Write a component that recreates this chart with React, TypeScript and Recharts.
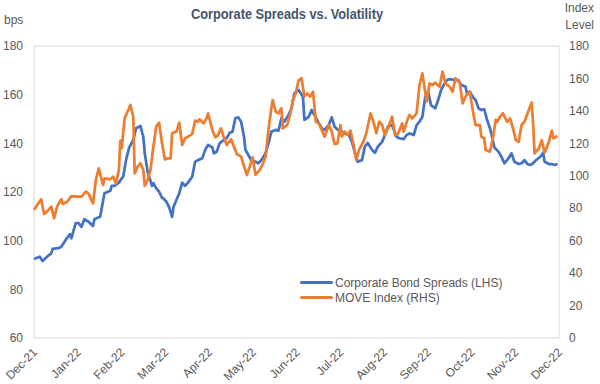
import { LineChart, Line, XAxis, YAxis, Legend, ReferenceArea } from "recharts";

// month labels shown under the x axis, spaced evenly across the year
const monthLabels = [
  "Dec-21", "Jan-22", "Feb-22", "Mar-22", "Apr-22", "May-22", "Jun-22",
  "Jul-22", "Aug-22", "Sep-22", "Oct-22", "Nov-22", "Dec-22",
];

const leftTicks = [60, 80, 100, 120, 140, 160, 180];
const rightTicks = [0, 20, 40, 60, 80, 100, 120, 140, 160, 180];

// Corporate bond spreads (bps, left axis), days since 1 Dec 2021
const spreadDays = [
  0, 4, 6, 9, 12, 13, 17, 19, 22, 25,
  26, 29, 31, 33, 35, 38, 41, 42, 45, 46,
  49, 53, 54, 56, 59, 61, 62, 64, 66, 69,
  71, 74, 76, 77, 79, 81, 82, 83, 85, 87,
  89, 90, 92, 94, 96, 97, 99, 101, 103, 105,
  107, 110, 112, 114, 117, 119, 121, 124, 125, 127,
  129, 132, 134, 136, 138, 140, 142, 144, 146, 147,
  149, 151, 154, 156, 158, 161, 163, 165, 168, 170,
  172, 174, 177, 179, 181, 184, 187, 188, 191, 193,
  195, 198, 200, 202, 205, 207, 209, 212, 214, 216,
  219, 221, 223, 225, 228, 230, 232, 235, 237, 239,
  242, 244, 246, 249, 252, 254, 257, 259, 261, 264,
  266, 268, 270, 272, 274, 276, 279, 281, 283, 286,
  288, 290, 293, 295, 297, 300, 301, 303, 305, 307,
  309, 311, 313, 315, 317, 319, 320, 323, 325, 327,
  330, 332, 334, 337, 339, 341, 343, 345, 347, 349,
  352, 354, 355, 358, 360, 362, 364,
];
const spreadValues = [
  92.5, 93.4, 91.6, 93.4, 94.8, 96.6, 96.9, 97.5, 100.3, 102.7,
  101.0, 107.2, 107.2, 105.7, 108.8, 107.8, 106.0, 108.8, 109.6, 109.8,
  119.5, 120.5, 122.5, 122.5, 123.8, 125.6, 126.3, 133.1, 138.0, 141.4,
  146.2, 147.1, 142.7, 135.9, 128.3, 124.6, 122.5, 123.6, 121.5, 120.1,
  117.6, 117.4, 116.0, 113.7, 109.8, 113.9, 116.7, 119.5, 123.8, 122.5,
  123.8, 126.3, 132.4, 133.1, 133.9, 137.3, 139.3, 138.4, 135.9, 136.5,
  140.0, 141.4, 142.1, 144.3, 144.8, 150.3, 150.7, 148.9, 142.7, 137.3,
  135.2, 133.1, 132.4, 131.8, 133.1, 135.9, 140.0, 144.8, 145.5, 145.2,
  150.3, 148.9, 151.6, 154.4, 160.5, 161.9, 159.1, 149.6, 150.9, 153.7,
  151.6, 148.3, 146.2, 145.5, 147.6, 150.7, 146.8, 145.2, 144.8, 144.1,
  143.4, 140.6, 136.5, 132.4, 133.1, 138.6, 140.2, 137.3, 136.1, 138.6,
  140.6, 143.4, 146.8, 147.5, 142.7, 142.1, 141.7, 143.4, 144.1, 143.4,
  147.5, 148.9, 150.9, 159.1, 161.2, 155.7, 154.4, 157.8, 161.9, 165.3,
  166.3, 166.3, 166.0, 166.0, 164.0, 163.3, 160.5, 161.2, 159.1, 157.8,
  154.4, 153.7, 154.0, 149.6, 146.2, 141.4, 138.4, 136.5, 134.5, 131.8,
  133.9, 135.9, 132.4, 131.5, 131.8, 133.1, 131.5, 131.1, 131.8, 133.1,
  134.5, 136.1, 132.4, 131.5, 131.5, 131.1, 131.5,
];

// MOVE index (right axis)
const moveDays = [
  0, 3, 5, 7, 9, 12, 14, 16, 19, 20,
  23, 26, 30, 33, 36, 38, 41, 43, 45, 48,
  49, 53, 55, 57, 59, 60, 61, 63, 65, 67,
  69, 70, 72, 74, 76, 77, 79, 81, 83, 85,
  87, 89, 91, 93, 95, 96, 99, 101, 103, 105,
  107, 110, 112, 114, 115, 118, 120, 121, 124, 126,
  128, 130, 132, 134, 137, 139, 141, 144, 146, 148,
  150, 152, 154, 157, 159, 161, 163, 165, 166, 168,
  170, 172, 173, 176, 178, 180, 182, 184, 186, 188,
  190, 192, 194, 196, 198, 200, 202, 205, 207, 209,
  211, 213, 214, 216, 218, 220, 222, 224, 226, 229,
  231, 234, 236, 238, 240, 242, 244, 246, 249, 251,
  253, 256, 257, 260, 261, 263, 266, 268, 270, 273,
  275, 277, 279, 282, 284, 286, 289, 291, 293, 296,
  298, 300, 303, 305, 307, 310, 311, 313, 314, 317,
  319, 321, 322, 324, 326, 329, 331, 333, 335, 337,
  339, 341, 344, 346, 347, 348, 351, 353, 355, 358,
  360, 361, 364,
];
const moveValues = [
  78.9, 83.0, 85.5, 76.4, 77.9, 81.0, 73.8, 81.0, 85.5, 82.6,
  84.0, 87.5, 87.1, 87.1, 90.2, 88.8, 83.0, 97.4, 104.6, 94.3,
  98.4, 97.8, 99.4, 95.3, 103.6, 121.6, 116.9, 135.4, 139.5, 143.6,
  136.4, 101.5, 105.6, 107.7, 103.6, 93.7, 97.4, 103.6, 117.9, 130.3,
  132.7, 120.0, 110.1, 110.7, 110.7, 126.2, 127.2, 132.7, 119.0, 123.1,
  124.1, 125.7, 134.0, 133.3, 134.8, 132.3, 135.4, 138.5, 128.2, 123.7,
  125.1, 129.2, 123.7, 119.0, 122.5, 117.9, 113.4, 111.8, 106.0, 100.5,
  105.6, 111.4, 100.5, 103.6, 107.2, 111.8, 128.2, 141.6, 146.7, 139.5,
  138.5, 141.6, 129.2, 131.3, 137.5, 146.7, 150.8, 159.0, 160.1, 148.8,
  150.8, 148.8, 151.8, 133.3, 132.3, 128.2, 124.1, 131.3, 127.2, 119.6,
  120.0, 131.3, 124.1, 127.2, 125.1, 127.8, 120.0, 109.7, 115.9, 121.0,
  126.2, 138.5, 133.3, 126.2, 133.3, 131.3, 125.1, 129.2, 136.4, 125.1,
  125.7, 132.3, 127.2, 135.4, 137.5, 135.4, 138.5, 155.9, 163.1, 145.7,
  157.0, 155.9, 157.4, 154.9, 164.2, 157.0, 154.9, 151.8, 160.1, 157.4,
  144.6, 148.8, 151.8, 140.5, 131.3, 131.3, 124.1, 123.1, 115.9, 114.9,
  123.1, 134.4, 133.3, 136.4, 138.5, 133.3, 135.4, 129.2, 122.0, 121.0,
  131.3, 133.3, 140.5, 145.1, 132.3, 113.8, 116.9, 122.0, 114.2, 121.0,
  127.8, 123.1, 124.5,
];

const spreadData = spreadDays.map((day, i) => ({ day, spread: spreadValues[i] }));
const moveData = moveDays.map((day, i) => ({ day, move: moveValues[i] }));
const monthTicks = monthLabels.map((_, i) => (i * 365) / 12);

const FONT = '"Liberation Sans", Arial, sans-serif';
const TEXT = "#595959";

const MonthTick = (props: any) => {
  const { x, y, payload } = props;
  const label = monthLabels[Math.round((payload.value * 12) / 365)];
  const tx = x + 4;
  const ty = y + 15;
  return (
    <text
      x={tx}
      y={ty}
      transform={`rotate(-45, ${tx}, ${ty})`}
      textAnchor="end"
      fontSize={12}
      fill={TEXT}
      fontFamily={FONT}
    >
      {label}
    </text>
  );
};

const LegendContent = (props: any) => (
  <div style={{ fontSize: 12, color: TEXT, fontFamily: FONT }}>
    {(props.payload || []).map((item: any) => (
      <div key={item.value} style={{ display: "flex", alignItems: "center", height: 15, whiteSpace: "nowrap" }}>
        <span style={{ display: "inline-block", width: 33, height: 3, background: item.color, borderRadius: 1.5 }} />
        <span style={{ marginLeft: 2 }}>{item.value}</span>
      </div>
    ))}
  </div>
);

export default function App() {
  const tickStyle = { fontSize: 12, fill: TEXT, fontFamily: FONT };
  return (
    <div style={{ position: "absolute", left: 0, top: 0, width: 600, height: 384, background: "#fff", fontFamily: FONT }}>
      <LineChart width={600} height={384} margin={{ top: 46, right: 0, bottom: 0, left: 0 }}>
        <XAxis
          dataKey="day"
          type="number"
          domain={[0, 365]}
          ticks={monthTicks}
          interval={0}
          height={46}
          axisLine={false}
          tickLine={false}
          tickSize={0}
          tickMargin={0}
          tick={<MonthTick />}
        />
        <YAxis
          yAxisId="left"
          width={34}
          domain={[60, 180]}
          ticks={leftTicks}
          interval={0}
          axisLine={false}
          tickLine={false}
          tickSize={0}
          tickMargin={11}
          tick={tickStyle}
        />
        <YAxis
          yAxisId="right"
          orientation="right"
          width={41}
          domain={[0, 180]}
          ticks={rightTicks}
          interval={0}
          axisLine={false}
          tickLine={false}
          tickSize={0}
          tickMargin={10}
          tick={tickStyle}
        />
        <ReferenceArea
          yAxisId="left"
          x1={0}
          x2={365}
          y1={60}
          y2={180}
          fill="none"
          stroke="#d9d9d9"
          strokeWidth={1}
        />
        <Line
          yAxisId="left"
          data={spreadData}
          dataKey="spread"
          name="Corporate Bond Spreads (LHS)"
          type="linear"
          stroke="#4472C4"
          strokeWidth={2.75}
          strokeLinejoin="round"
          dot={false}
          isAnimationActive={false}
        />
        <Line
          yAxisId="right"
          data={moveData}
          dataKey="move"
          name="MOVE Index (RHS)"
          type="linear"
          stroke="#ED7D31"
          strokeWidth={2.75}
          strokeLinejoin="round"
          dot={false}
          isAnimationActive={false}
        />
        <Legend
          layout="vertical"
          align="center"
          verticalAlign="middle"
          content={<LegendContent />}
          wrapperStyle={{ left: 300, top: 275, width: "auto" }}
        />
      </LineChart>
      <svg
        width={600}
        height={384}
        style={{ position: "absolute", left: 0, top: 0, pointerEvents: "none" }}
      >
        <text
          x={287}
          y={14}
          textAnchor="middle"
          dominantBaseline="central"
          fontSize={14}
          fontWeight="bold"
          fill="#44546A"
          fontFamily={FONT}
          textLength={192}
          lengthAdjust="spacingAndGlyphs"
        >
          Corporate Spreads vs. Volatility
        </text>
        <text x={4} y={20} dominantBaseline="central" fontSize={12} fill={TEXT} fontFamily={FONT}>
          bps
        </text>
        <text x={594} y={8} textAnchor="end" dominantBaseline="central" fontSize={12} fill={TEXT} fontFamily={FONT}>
          Index
        </text>
        <text x={594} y={25} textAnchor="end" dominantBaseline="central" fontSize={12} fill={TEXT} fontFamily={FONT}>
          Level
        </text>
      </svg>
    </div>
  );
}
